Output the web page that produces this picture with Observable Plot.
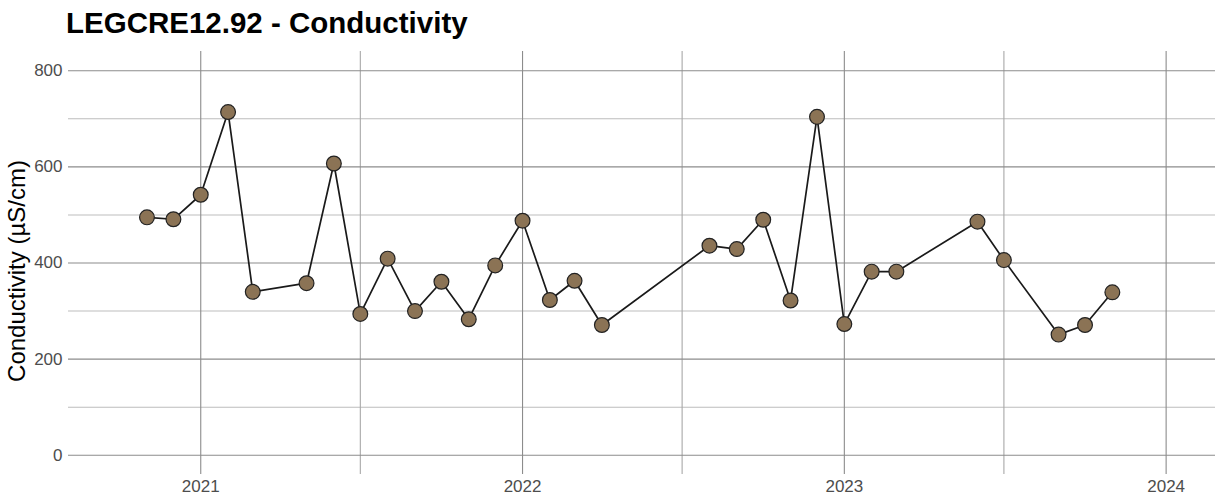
<!DOCTYPE html>
<html><head><meta charset="utf-8">
<script src="https://cdn.jsdelivr.net/npm/d3@7"></script>
<script src="https://cdn.jsdelivr.net/npm/@observablehq/plot@0.6"></script>
<style>
body{margin:0;background:#fff;font-family:"Liberation Sans",Arial,sans-serif;overflow:hidden;}
#title{height:44px;box-sizing:border-box;padding:8px 0 0 66px;font-size:29.5px;font-weight:bold;line-height:30px;color:#000;white-space:nowrap;}
</style></head><body>
<div id="title">LEGCRE12.92 - Conductivity</div>
<div id="chart"></div>
<script>
const titleText = "LEGCRE12.92 - Conductivity";
const yLabel = "Conductivity (µS/cm)";
const sampleDates = [
  "2020-11-01","2020-12-01","2021-01-01","2021-02-01","2021-03-01","2021-05-01",
  "2021-06-01","2021-07-01","2021-08-01","2021-09-01","2021-10-01","2021-11-01",
  "2021-12-01","2022-01-01","2022-02-01","2022-03-01","2022-04-01","2022-08-01",
  "2022-09-01","2022-10-01","2022-11-01","2022-12-01","2023-01-01","2023-02-01",
  "2023-03-01","2023-06-01","2023-07-01","2023-09-01","2023-10-01","2023-11-01"
];
const conductivity = [
  495, 491, 542, 714, 340, 358,
  607, 294, 409, 300, 361, 283,
  395, 488, 323, 363, 271, 436,
  429, 490, 322, 704, 273, 382,
  382, 486, 406, 251, 271, 339
];
const yMajorTicks = [0, 200, 400, 600, 800];
const yMinorTicks = [100, 300, 500, 700];
const xMajorTicks = ["2021-01-01","2022-01-01","2023-01-01","2024-01-01"];
const xMinorTicks = ["2021-07-01","2022-07-01","2023-07-01"];
const xDomain = ["2020-08-04","2024-02-26"];
const yDomain = [-40, 840];

const d = s => new Date(s + "T00:00:00Z");
const data = sampleDates.map((s, i) => ({date: d(s), value: conductivity[i]}));

const chart = Plot.plot({
  width: 1215,
  height: 458,
  marginTop: 7,
  marginBottom: 28,
  marginLeft: 68,
  marginRight: 0,
  style: {fontFamily: "Liberation Sans, Arial, sans-serif", fontSize: "17px", color: "#4d4d4d", background: "#fff"},
  x: {type: "utc", domain: xDomain.map(d)},
  y: {domain: yDomain},
  marks: [
    Plot.ruleY(yMinorTicks, {stroke: "#bdbdbd", strokeWidth: 1.1}),
    Plot.ruleX(xMinorTicks.map(d), {stroke: "#a8a8a8", strokeWidth: 1.1}),
    Plot.ruleY(yMajorTicks, {stroke: "#8c8c8c", strokeWidth: 1.1}),
    Plot.ruleX(xMajorTicks.map(d), {stroke: "#8c8c8c", strokeWidth: 1.1}),
    Plot.axisY({ticks: yMajorTicks, tickSize: 0, tickPadding: 6, label: null, fill: "#4d4d4d"}),
    Plot.axisX({ticks: xMajorTicks.map(d), tickSize: 0, tickPadding: 5, label: null, tickFormat: d3.utcFormat("%Y"), fill: "#4d4d4d"}),
    Plot.text([yLabel], {frameAnchor: "left", textAnchor: "middle", rotate: -90, dx: -51, dy: 8, fontSize: 24, fill: "#000"}),
    Plot.line(data, {x: "date", y: "value", stroke: "#1a1a1a", strokeWidth: 1.7}),
    Plot.dot(data, {x: "date", y: "value", r: 7.4, fill: "#8B7355", stroke: "#222", strokeWidth: 1.2})
  ]
});
document.getElementById("chart").appendChild(chart);
</script>
</body></html>
